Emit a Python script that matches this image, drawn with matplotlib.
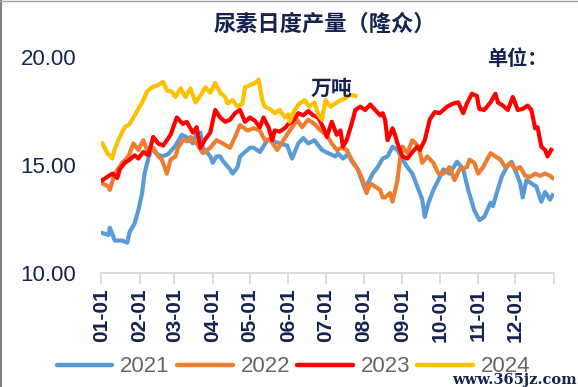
import matplotlib
matplotlib.use("Agg")
import matplotlib.pyplot as plt
from matplotlib.lines import Line2D

plt.rcParams['font.family'] = ['Liberation Sans', 'Noto Sans CJK SC', 'DejaVu Sans']

# day of year (0 = Jan 1) and daily output (10k tonnes)
days_2021 = [1, 6, 7, 11, 17, 21, 23, 27, 30, 33, 35, 38, 41, 44, 49, 54, 60, 65, 70, 74,
             77, 80, 82, 88, 90, 93, 96, 98, 104, 106, 110, 112, 116, 120, 123, 128, 134,
             139, 144, 150, 154, 159, 163, 167, 172, 178, 183, 189, 191, 195, 199, 203,
             207, 213, 215, 219, 223, 227, 231, 235, 239, 243, 247, 251, 255, 259, 261,
             264, 268, 272, 276, 281, 287, 292, 296, 301, 305, 309, 314, 316, 319, 323,
             327, 331, 335, 338, 340, 343, 347, 351, 355, 358, 362, 364]
vals_2021 = [11.85, 11.76, 12.1, 11.5, 11.5, 11.4, 11.9, 12.3, 12.9, 13.7, 14.6, 15.3, 15.8,
             15.55, 15.4, 15.5, 15.9, 16.4, 16.25, 16.0, 16.5, 16.5, 15.8, 15.4, 15.1, 15.4,
             15.4, 15.2, 14.8, 14.6, 14.9, 15.4, 15.6, 15.8, 15.8, 15.6, 16.15, 16.1, 16.0,
             15.9, 15.3, 16.0, 16.25, 16.0, 16.15, 15.7, 15.55, 15.4, 15.55, 15.3, 15.5,
             15.1, 14.8, 13.85, 14.15, 14.6, 14.9, 15.3, 15.4, 15.85, 15.7, 15.25, 14.9,
             14.6, 14.0, 13.4, 12.6, 13.25, 13.85, 14.3, 14.8, 14.6, 15.15, 14.8, 13.85,
             12.9, 12.45, 12.6, 13.25, 13.1, 13.7, 14.45, 14.9, 15.15, 14.6, 14.15, 13.5,
             14.3, 14.15, 14.0, 13.3, 13.75, 13.4, 13.6]

days_2022 = [1, 6, 7, 11, 17, 22, 26, 30, 34, 38, 42, 46, 49, 53, 56, 60, 62, 66, 70, 72,
             77, 82, 88, 93, 98, 104, 108, 112, 118, 123, 128, 132, 136, 142, 147, 151, 154,
             158, 162, 167, 172, 177, 181, 186, 190, 194, 198, 202, 207, 211, 214, 217, 221,
             225, 227, 229, 233, 235, 239, 241, 243, 247, 251, 256, 259, 263, 268, 272, 276,
             281, 285, 289, 295, 297, 301, 304, 308, 314, 318, 322, 326, 330, 334, 338, 342,
             346, 350, 354, 358, 362, 364]
vals_2022 = [14.15, 14.0, 13.85, 14.6, 15.1, 15.4, 16.0, 15.7, 16.15, 15.55, 15.8, 15.4,
             15.25, 14.6, 15.25, 15.4, 15.8, 16.15, 16.1, 16.3, 16.0, 15.55, 15.8, 16.15,
             16.0, 15.8, 16.3, 16.85, 16.6, 16.7, 16.6, 16.15, 16.2, 15.7, 16.15, 16.5, 16.75,
             17.1, 16.75, 17.1, 16.9, 16.6, 16.45, 16.0, 15.7, 15.8, 15.7, 15.25, 14.8, 14.3,
             13.7, 14.15, 14.0, 13.85, 13.5, 13.5, 13.7, 13.3, 14.3, 15.25, 15.85, 15.55,
             16.15, 15.85, 15.1, 15.4, 15.1, 14.6, 14.6, 14.9, 14.3, 14.8, 14.9, 15.25, 15.1,
             14.6, 14.9, 15.55, 15.4, 15.25, 14.9, 15.1, 14.8, 14.9, 14.5, 14.45, 14.6, 14.5,
             14.6, 14.5, 14.4]

days_2023 = [1, 5, 9, 13, 15, 19, 23, 27, 30, 34, 38, 42, 46, 50, 56, 61, 66, 69, 74, 77,
             80, 84, 88, 92, 96, 100, 104, 108, 112, 116, 120, 124, 128, 131, 135, 138, 140,
             144, 148, 151, 154, 159, 163, 167, 171, 175, 179, 182, 186, 190, 193, 195, 198,
             202, 205, 209, 213, 217, 221, 225, 227, 229, 231, 235, 237, 239, 243, 247, 251,
             255, 257, 261, 265, 269, 273, 279, 284, 288, 292, 295, 299, 303, 305, 309, 314,
             318, 320, 324, 328, 332, 336, 340, 344, 347, 350, 352, 355, 358, 360, 363]
vals_2023 = [14.3, 14.45, 14.6, 14.4, 14.8, 15.1, 15.25, 15.45, 15.3, 15.6, 15.45, 16.3,
             16.0, 15.9, 16.4, 17.2, 16.9, 17.0, 16.5, 16.75, 15.8, 16.2, 16.5, 17.55, 17.2,
             17.0, 17.1, 17.4, 17.55, 17.0, 17.2, 17.05, 16.75, 17.2, 16.75, 16.15, 16.6,
             16.55, 16.7, 16.9, 17.0, 17.4, 17.3, 17.5, 17.3, 17.2, 16.75, 16.3, 17.0, 16.4,
             16.6, 15.85, 16.15, 16.9, 17.55, 17.7, 17.55, 17.8, 17.55, 17.3, 17.4, 17.1,
             16.15, 16.7, 16.4, 16.0, 15.4, 15.3, 15.6, 15.85, 15.7, 16.15, 17.1, 17.45,
             17.4, 17.7, 17.85, 17.9, 17.4, 17.85, 18.3, 18.2, 17.6, 17.55, 17.9, 18.3, 17.9,
             17.75, 17.55, 18.15, 17.55, 17.6, 17.75, 17.55, 16.7, 16.75, 15.85, 15.7, 15.4,
             15.7]

days_2024 = [1, 5, 9, 11, 15, 19, 23, 26, 30, 34, 37, 41, 46, 50, 53, 57, 60, 64, 68, 72,
             76, 80, 84, 88, 92, 96, 100, 102, 106, 110, 114, 116, 120, 124, 127, 130, 132,
             136, 140, 144, 148, 151, 152, 156, 160, 164, 168, 172, 175, 178, 181, 185, 189,
             193, 197, 201, 205]
vals_2024 = [16.0, 15.55, 15.3, 15.75, 16.3, 16.75, 16.9, 17.2, 17.6, 18.0, 18.4, 18.6, 18.7,
             18.85, 18.45, 18.4, 18.15, 18.55, 18.15, 18.55, 17.9, 18.2, 18.6, 18.35, 18.8,
             18.35, 18.15, 17.85, 18.0, 17.7, 17.85, 18.6, 18.7, 18.8, 18.95, 18.0, 17.7,
             17.6, 17.4, 17.55, 17.2, 17.35, 17.0, 17.55, 17.85, 18.0, 17.7, 17.9, 17.35,
             17.1, 18.0, 17.7, 17.85, 18.0, 18.1, 18.25, 18.2]

month_starts = [0, 31, 59, 90, 120, 151, 181, 212, 243, 273, 304, 334, 365]
month_labels = ['01-01', '02-01', '03-01', '04-01', '05-01', '06-01',
                '07-01', '08-01', '09-01', '10-01', '11-01', '12-01', '']

series = [
    ('2021', days_2021, vals_2021, '#5b9bd5'),
    ('2022', days_2022, vals_2022, '#ed7d31'),
    ('2023', days_2023, vals_2023, '#ff0000'),
    ('2024', days_2024, vals_2024, '#ffc000'),
]

navy = '#14234f'

fig = plt.figure(figsize=(5.78, 3.87), dpi=100)
ax = fig.add_axes([0.175, 0.2946, 0.783, 0.558])

for name, d, v, c in series:
    ax.plot(d, v, color=c, lw=3.0, solid_joinstyle='round', label=name)

ax.set_xlim(0, 365)
ax.set_ylim(10, 20)
ax.set_yticks([10, 15, 20])
ax.set_yticklabels(['10.00', '15.00', '20.00'])
ax.set_xticks(month_starts)
ax.set_xticklabels(month_labels, rotation=90, fontsize=15, fontweight='bold', color=navy)

for s in ['top', 'right', 'left']:
    ax.spines[s].set_visible(False)
ax.spines['bottom'].set_color('#d9d9d9')
ax.spines['bottom'].set_linewidth(1.3)
ax.tick_params(axis='x', length=8, width=1.3, color='#d9d9d9', pad=3)
ax.tick_params(axis='y', length=0, pad=18, labelsize=16, labelcolor=navy)

fig.text(0.562, 0.938, '尿素日度产量（隆众）', ha='center', va='center',
         fontsize=16, color=navy, family=['Noto Sans CJK SC'], fontweight='bold')
fig.text(0.895, 0.848, '单位：', ha='center', va='center',
         fontsize=14.5, color=navy, family=['Noto Sans CJK SC'], fontweight='bold')
fig.text(0.573, 0.772, '万吨', ha='center', va='center',
         fontsize=15, color=navy, family=['Noto Sans CJK SC'], fontweight='bold')

handles = [Line2D([], [], color=c, lw=3.2, solid_capstyle='round') for _, _, _, c in series]
fig.legend(handles, [s[0] for s in series], loc='center', ncol=4,
           bbox_to_anchor=(0.508, 0.052), frameon=False,
           handlelength=2.5, handletextpad=0.36, columnspacing=0.32,
           prop={'family': 'Liberation Sans', 'size': 16},
           labelcolor='#666666')

fig.text(0.89, 0.018, 'www.365jz.com', ha='center', va='center', fontsize=10.5,
         color=navy, family='DejaVu Serif', fontweight='bold')

# grey frame on left and top edges
fig.add_artist(Line2D([0.002, 0.002], [0, 1], color='#808080', lw=1.5, transform=fig.transFigure))
fig.add_artist(Line2D([0, 1], [0.998, 0.998], color='#a0a0a0', lw=1.0, transform=fig.transFigure))

fig.savefig('out.png', dpi=100)
